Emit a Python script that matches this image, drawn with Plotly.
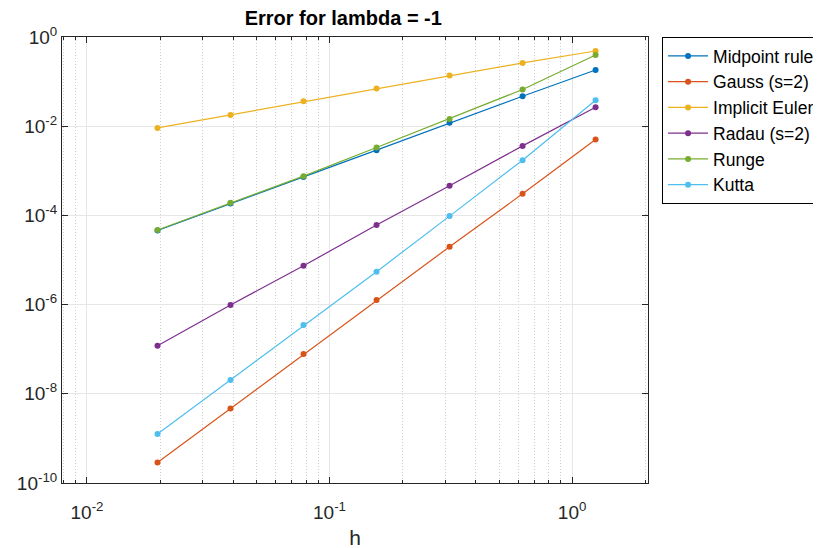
import plotly.graph_objects as go

h = [0.01953125, 0.0390625, 0.078125, 0.15625, 0.3125, 0.625, 1.25]

midpoint = [4.6e-5, 1.86e-4, 7.3e-4, 2.9e-3, 1.19e-2, 4.7e-2, 0.182]
gauss = [2.88e-10, 4.67e-9, 7.8e-8, 1.27e-6, 1.98e-5, 3.05e-4, 5.03e-3]
implicit_euler = [9.16e-3, 1.79e-2, 3.63e-2, 6.99e-2, 0.1366, 0.262, 0.486]
radau = [1.2e-7, 9.8e-7, 7.43e-6, 6.07e-5, 4.6e-4, 3.62e-3, 2.66e-2]
runge = [4.7e-5, 1.91e-4, 7.59e-4, 3.33e-3, 1.458e-2, 6.64e-2, 0.395]
kutta = [1.26e-9, 2.05e-8, 3.49e-7, 5.46e-6, 9.64e-5, 1.73e-3, 3.82e-2]

names = ["Midpoint rule", "Gauss (s=2)", "Implicit Euler", "Radau (s=2)", "Runge", "Kutta"]
series = [midpoint, gauss, implicit_euler, radau, runge, kutta]
colors = ["#0072BD", "#D95319", "#EDB120", "#7E2F8E", "#77AC30", "#4DBEEE"]

x_major = [0.01, 0.1, 1]
x_major_text = ["10<sup>-2</sup>", "10<sup>-1</sup>", "10<sup>0</sup>"]
x_minor = [m * 10 ** e for e in (-3, -2, -1, 0) for m in range(2, 10)]
y_major = [1e0, 1e-2, 1e-4, 1e-6, 1e-8, 1e-10]
y_major_text = ["10<sup>0</sup>", "10<sup>-2</sup>", "10<sup>-4</sup>", "10<sup>-6</sup>",
                "10<sup>-8</sup>", "10<sup>-10</sup>"]

fig = go.Figure()
for name, vals, col in zip(names, series, colors):
    fig.add_trace(go.Scatter(
        x=h, y=vals, name=name, mode="lines+markers",
        line=dict(color=col, width=1.2),
        marker=dict(color=col, size=6),
    ))

axcol = "#262626"
font = "Liberation Sans, Arial, Helvetica, sans-serif"

# the page body has an 8px margin, so the figure is offset by (8, 8)
fig.update_layout(
    width=821, height=548,
    margin=dict(l=54, r=181, t=29, b=73, autoexpand=False),
    paper_bgcolor="white", plot_bgcolor="white",
    font=dict(family=font, size=19, color=axcol),
    title=dict(text="<b>Error for lambda = -1</b>", x=0.48, xref="paper", xanchor="center",
               y=1 - 10 / 548, yref="container", yanchor="middle",
               font=dict(size=20, color="black", family=font)),
    xaxis=dict(
        type="log", range=[-2.103, 0.313], automargin=False,
        tickmode="array", tickvals=x_major, ticktext=x_major_text,
        ticks="inside", ticklen=6, tickcolor=axcol, ticklabelstandoff=12,
        showline=True, linecolor=axcol, linewidth=1, mirror="allticks",
        showgrid=True, gridcolor="#e6e6e6", gridwidth=1,
        zeroline=False,
        tickfont=dict(size=19, color=axcol),
        title=dict(text="h", font=dict(size=21, color=axcol), standoff=8),
        minor=dict(tickmode="array", tickvals=x_minor, ticks="inside", ticklen=3,
                   tickcolor=axcol, showgrid=True, griddash="1px,2px",
                   gridcolor="#cfcfcf", gridwidth=1),
    ),
    yaxis=dict(
        type="log", range=[-10, 0], automargin=False,
        tickmode="array", tickvals=y_major, ticktext=y_major_text,
        ticks="inside", ticklen=6, tickcolor=axcol,
        showline=True, linecolor=axcol, linewidth=1, mirror="allticks",
        showgrid=True, gridcolor="#e6e6e6", gridwidth=1,
        zeroline=False,
        tickfont=dict(size=19, color=axcol),
    ),
    legend=dict(
        x=1.024, y=1.0, xanchor="left", yanchor="top",
        bordercolor="black", borderwidth=1, bgcolor="white",
        font=dict(size=17.5, color="black", family=font),
        tracegroupgap=0, itemwidth=40,
    ),
    showlegend=True,
)

fig.write_html("out.html")
